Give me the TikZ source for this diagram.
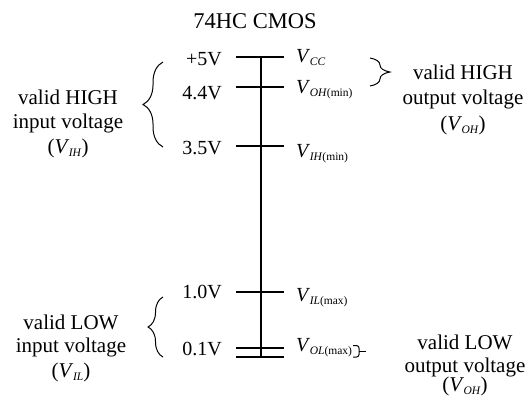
\documentclass[tikz,border=0pt]{standalone}
\usepackage{fontspec}
\setmainfont{Liberation Serif}
\usetikzlibrary{decorations.pathreplacing}
\newcommand{\VV}[1]{\textit{V}\kern-0.5bp\raisebox{-3.5bp}{\fontsize{11.5bp}{12bp}\selectfont #1}}
\begin{document}
\begin{tikzpicture}[x=1bp,y=-1bp,
  tick/.style={line width=1.1bp},
  txt/.style={inner sep=0pt, anchor=base, font=\fontsize{21bp}{25bp}\selectfont},
  vlab/.style={inner sep=0pt, anchor=base east, font=\fontsize{20bp}{24bp}\selectfont},
  rlab/.style={inner sep=0pt, anchor=base west, font=\fontsize{20bp}{24bp}\selectfont},
  brc/.style={line width=1bp, decorate, decoration={brace, amplitude=#1}}]

\useasboundingbox (0,0) rectangle (530,399);

\node[txt] (title) at (255,28) {\fontsize{22.5bp}{26bp}\selectfont 74HC CMOS};

% scale
\coordinate (top) at (261,57);
\coordinate (bot) at (261,357);
\coordinate (a1) at (236,57);  \coordinate (b1) at (284,57);
\coordinate (a2) at (236,87);  \coordinate (b2) at (284,87);
\coordinate (a3) at (236,146); \coordinate (b3) at (284,146);
\coordinate (a4) at (236,292); \coordinate (b4) at (284,292);
\coordinate (a5) at (236,348); \coordinate (b5) at (284,348);
\coordinate (a6) at (236,357); \coordinate (b6) at (284,357);
\draw[tick] (top) -- (bot);
\foreach \i in {1,...,6} {\draw[tick] (a\i) -- (b\i);}

% voltage labels
\node[vlab] (v5)  at (222,65)  {+5V};
\node[vlab] (v44) at (222,99)  {4.4V};
\node[vlab] (v35) at (222,154) {3.5V};
\node[vlab] (v10) at (222,298) {1.0V};
\node[vlab] (v01) at (222,355) {0.1V};

% symbol labels
\node[rlab] (vcc)  at (296,62)  {\VV{\textit{CC}}};
\node[rlab] (voh)  at (296,93)  {\VV{\textit{OH}(min)}};
\node[rlab] (vih)  at (296,157) {\VV{\textit{IH}(min)}};
\node[rlab] (vil)  at (296,301) {\VV{\textit{IL}(max)}};
\node[rlab] (vol)  at (296,351) {\VV{\textit{OL}(max)}};

% braces
\draw[brc=20] (163,147) -- (163,62);
\draw[brc=20] (370,58) -- (370,86);
\draw[brc=15] (163,357) -- (163,297);
\coordinate (sb1) at (353,345.5);
\coordinate (sb2) at (353,357);
\coordinate (sbt) at (366,351.5);
\draw[line width=1bp, rounded corners=2.5bp] (sb1) -- (359,345.5) -- (359,357) -- (sb2);
\draw[line width=1bp] (359,351.5) -- (sbt);

% descriptions
\node[txt] (ih1) at (68,104) {valid HIGH};
\node[txt] (ih2) at (68,128) {input voltage};
\node[txt] (ih3) at (68,153) {(\VV{\textit{IH}})};

\node[txt] (oh1) at (463,79)  {valid HIGH};
\node[txt] (oh2) at (463,104) {output voltage};
\node[txt] (oh3) at (463,130) {(\VV{\textit{OH}})};

\node[txt] (il1) at (71,329) {valid LOW};
\node[txt] (il2) at (71,352) {input voltage};
\node[txt] (il3) at (71,377) {(\VV{\textit{IL}})};

\node[txt] (ol1) at (465,349) {valid LOW};
\node[txt] (ol2) at (465,372) {output voltage};
\node[txt] (ol3) at (465,391) {(\VV{\textit{OH}})};
\end{tikzpicture}
\end{document}
